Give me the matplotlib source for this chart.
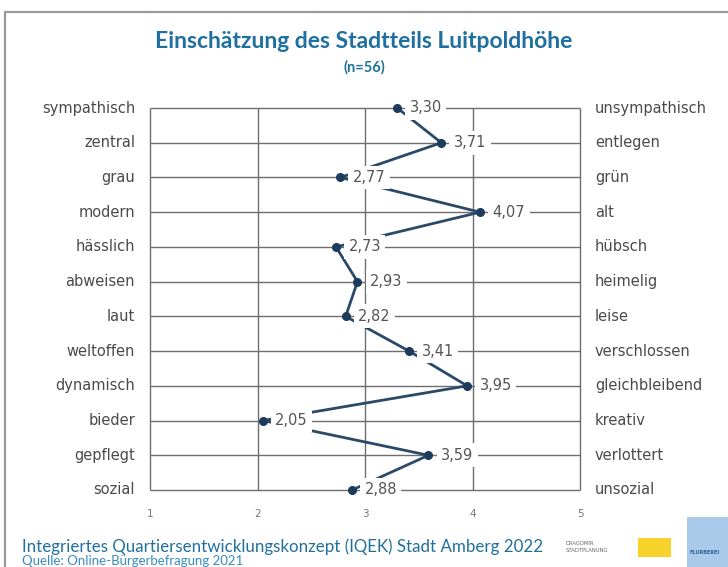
import matplotlib.pyplot as plt
from matplotlib.patches import Rectangle

# Semantisches Differential: linker / rechter Pol, Mittelwerte (Skala 1..5)
left_terms = ["sympathisch", "zentral", "grau", "modern", "hässlich", "abweisen",
              "laut", "weltoffen", "dynamisch", "bieder", "gepflegt", "sozial"]
right_terms = ["unsympathisch", "entlegen", "grün", "alt", "hübsch", "heimelig",
               "leise", "verschlossen", "gleichbleibend", "kreativ", "verlottert", "unsozial"]
means = [3.30, 3.71, 2.77, 4.07, 2.73, 2.93, 2.82, 3.41, 3.95, 2.05, 3.59, 2.88]
scale_ticks = [1, 2, 3, 4, 5]

title = "Einschätzung des Stadtteils Luitpoldhöhe"
subtitle = "(n=56)"
footer = "Integriertes Quartiersentwicklungskonzept (IQEK) Stadt Amberg 2022"
source = "Quelle: Online-Bürgerbefragung 2021"

plt.rcParams["font.family"] = ["DejaVu Sans"]
head_font = ["Lato", "DejaVu Sans"]
blue = "#1f6f9f"

W, H = 728, 567
fig = plt.figure(figsize=(W / 100, H / 100), dpi=100)

# Rahmen der Folie
fig.add_artist(Rectangle((5 / W, -0.01), 1.0, 1 - 12 / H + 0.01, transform=fig.transFigure,
                         fill=False, edgecolor="#9a9a9a", linewidth=1.6))

ax = fig.add_axes([150 / W, 1 - 490 / H, 430 / W, (490 - 108) / H])
ax.set_xlim(1, 5)
ax.set_ylim(len(means) - 1, 0)
ax.axis("off")

rows = list(range(len(means)))
grid_c = "#6e6e6e"
ax.hlines(rows, 1, 5, color=grid_c, linewidth=1.0, zorder=1, clip_on=False)
ax.vlines(scale_ticks, 0, len(means) - 1, color=grid_c, linewidth=1.0, zorder=1, clip_on=False)

ax.plot(means, rows, color="#2b4a68", linewidth=2.0, zorder=2, clip_on=False)
ax.plot(means, rows, "o", color="#1d3b5c", markersize=5.5, zorder=4, clip_on=False)

for y, v in enumerate(means):
    ax.annotate(f"{v:.2f}".replace(".", ","), (v, y), xytext=(9, 0),
                textcoords="offset points", ha="left", va="center",
                fontsize=10.5, color="#555555", zorder=3,
                bbox=dict(boxstyle="square,pad=0.3", facecolor="white", edgecolor="none"))
    ax.text(-0.035, y, left_terms[y], transform=ax.get_yaxis_transform(),
            ha="right", va="center", fontsize=10.5, color="#4a4a4a")
    ax.text(1.035, y, right_terms[y], transform=ax.get_yaxis_transform(),
            ha="left", va="center", fontsize=10.5, color="#4a4a4a")

for t in scale_ticks:
    ax.annotate(str(t), (t, len(means) - 1), xytext=(0, -17), textcoords="offset points",
                ha="center", va="center", fontsize=7.5, color="#777777",
                annotation_clip=False)

fig.text(0.5, 1 - 42 / H, title, ha="center", va="center", fontsize=16.5,
         fontweight="bold", color=blue, family=head_font)
fig.text(0.5, 1 - 67 / H, subtitle, ha="center", va="center", fontsize=10.5,
         fontweight="bold", color=blue, family=head_font)

fig.text(22 / W, 1 - 547 / H, footer, ha="left", va="center", fontsize=12.2,
         color=blue, family=head_font)
fig.text(22 / W, 1 - 567 / H, source, ha="left", va="bottom", fontsize=9.5,
         color="#3a8cc0", family=head_font)

# Logos unten rechts
fig.text(566 / W, 1 - 547 / H, "DRAGOMIR\nSTADTPLANUNG", ha="left", va="center",
         fontsize=3.8, color="#666666", linespacing=1.6)
fig.add_artist(Rectangle((638 / W, 1 - 557 / H), 33 / W, 19 / H,
                         transform=fig.transFigure, facecolor="#f6d22a", edgecolor="none"))
fig.add_artist(Rectangle((687 / W, 0), 41 / W, 50 / H,
                         transform=fig.transFigure, facecolor="#a9cbe9", edgecolor="none"))
fig.text(689 / W, 1 - 552 / H, "FLURBEREI", ha="left", va="center",
         fontsize=3.5, color="#2a5f9a", fontweight="bold")

fig.savefig("out.png", dpi=100)
